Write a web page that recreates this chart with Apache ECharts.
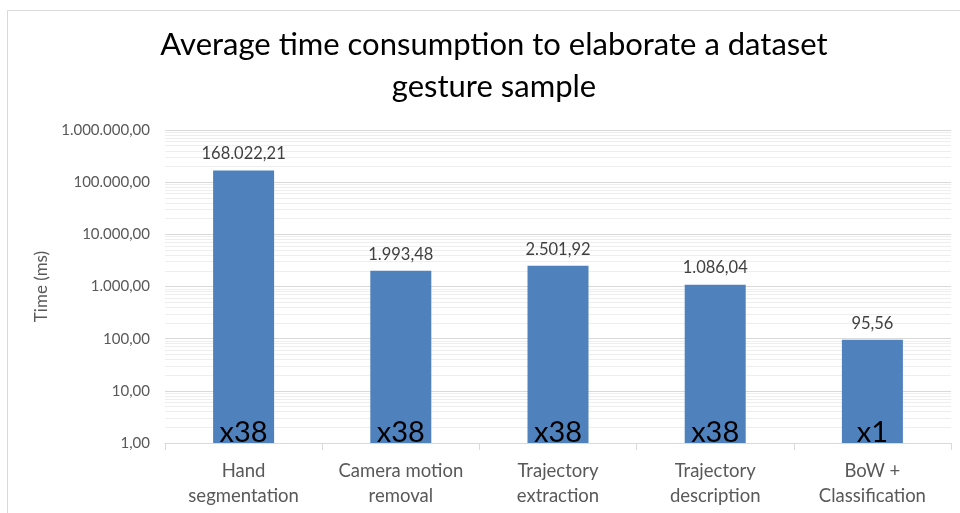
<!DOCTYPE html>
<html>
<head>
<meta charset="utf-8">
<script src="https://cdn.jsdelivr.net/npm/echarts@6/dist/echarts.min.js"></script>
<style>html,body{margin:0;padding:0;background:#fff}#c{width:960px;height:513px}</style>
</head>
<body>
<div id="c"></div>
<script>
const categories = ['Hand\nsegmentation', 'Camera motion\nremoval', 'Trajectory\nextraction', 'Trajectory\ndescription', 'BoW +\nClassification'];
const timesMs = [168022.21, 1993.48, 2501.92, 1086.04, 95.56];
const multipliers = ['x38', 'x38', 'x38', 'x38', 'x1'];
const titleText = 'Average time consumption to elaborate a dataset\ngesture sample';
const yAxisName = 'Time (ms)';

function fmt(v) {
  const fixed = Number(v).toFixed(2);
  const [ip, dp] = fixed.split('.');
  return ip.replace(/\B(?=(\d{3})+(?!\d))/g, '.') + ',' + dp;
}

const minorLines = [];
for (let k = 0; k < 6; k++) {
  for (let m = 2; m <= 9; m++) minorLines.push({ yAxis: m * Math.pow(10, k) });
}

const FONT = 'Lato';
const chart = echarts.init(document.getElementById('c'));
chart.setOption({
  animation: false,
  textStyle: { fontFamily: FONT },
  graphic: [{
    type: 'rect', shape: { x: 7.5, y: 10.5, width: 1000, height: 1000 },
    style: { fill: 'none', stroke: '#d9d9d9', lineWidth: 1 }, z: -10
  }],
  title: {
    text: titleText, left: 489, top: 19, textAlign: 'center',
    textStyle: { fontFamily: FONT, fontSize: 31, fontWeight: 'normal', color: '#000', lineHeight: 42 }
  },
  grid: { left: 165, right: 9, top: 130, bottom: 70 },
  xAxis: {
    type: 'category', data: categories,
    axisLine: { lineStyle: { color: '#d9d9d9' } },
    axisTick: { show: true, length: 7, lineStyle: { color: '#d9d9d9' } },
    axisLabel: { color: '#595959', fontSize: 18.5, lineHeight: 25, margin: 16, interval: 0, fontFamily: FONT },
    splitLine: { show: false }
  },
  yAxis: {
    type: 'log', logBase: 10, min: 1, max: 1000000,
    name: yAxisName, nameLocation: 'middle', nameGap: 113,
    nameTextStyle: { color: '#595959', fontSize: 17, fontFamily: FONT },
    axisLine: { show: false }, axisTick: { show: false },
    axisLabel: { color: '#595959', fontSize: 15, margin: 15, formatter: fmt, fontFamily: FONT },
    splitLine: { lineStyle: { color: '#d9d9d9' } }
  },
  series: [{
    type: 'bar', data: timesMs, barWidth: 61, z: 2,
    itemStyle: { color: '#4F81BD' },
    label: { show: true, position: 'top', distance: 8, color: '#404040', fontSize: 16.5, fontFamily: FONT,
      formatter: p => fmt(p.value) },
    markLine: {
      silent: true, symbol: 'none', label: { show: false }, z: 1,
      lineStyle: { color: '#eeeeee', type: 'solid', width: 1 },
      data: minorLines
    }
  }, {
    type: 'bar', data: timesMs, barWidth: 61, barGap: '-100%', z: 3,
    itemStyle: { color: 'rgba(0,0,0,0)' },
    label: { show: true, position: 'insideBottom', distance: -4, color: '#000', fontSize: 29, fontFamily: FONT,
      formatter: p => multipliers[p.dataIndex] }
  }]
});
</script>
</body>
</html>
